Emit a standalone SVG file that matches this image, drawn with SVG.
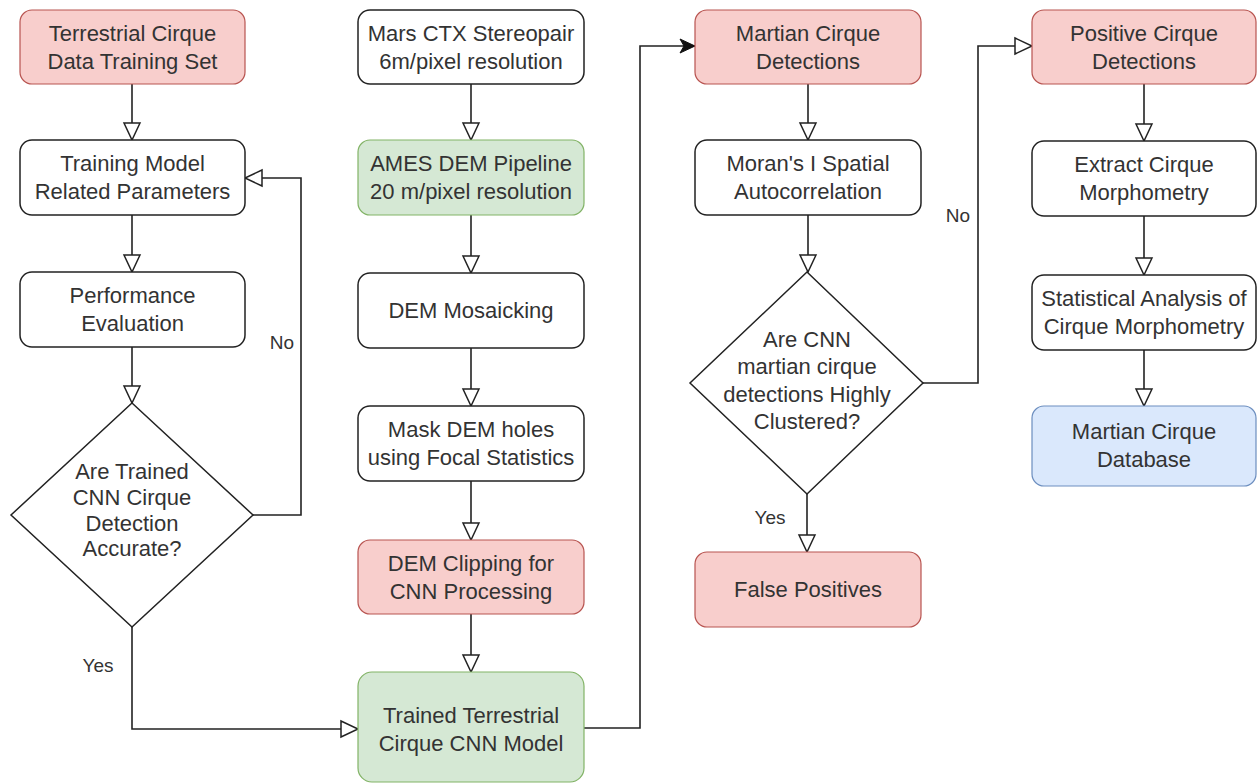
<svg xmlns="http://www.w3.org/2000/svg" width="1257" height="784" viewBox="0 0 1257 784">
<defs>
<marker id="open" markerUnits="userSpaceOnUse" markerWidth="20" markerHeight="20" refX="18" refY="9" orient="auto" viewBox="0 0 20 18">
<path d="M1,1 L18,9 L1,17 Z" fill="#fff" stroke="#222" stroke-width="1.5"/>
</marker>
<marker id="filled" markerUnits="userSpaceOnUse" markerWidth="18" markerHeight="16" refX="16" refY="8" orient="auto" viewBox="0 0 18 16">
<path d="M1,1 L16,8 L1,15 L5,8 Z" fill="#111" stroke="#111" stroke-width="1"/>
</marker>
<style>
.box{fill:#fff;stroke:#222;stroke-width:1.5}
.red{fill:#f8cecc;stroke:#b85450;stroke-width:1.2}
.green{fill:#d5e8d4;stroke:#82b366;stroke-width:1.2}
.blue{fill:#dae8fc;stroke:#6c8ebf;stroke-width:1.2}
text{font-family:"Liberation Sans",Arial,sans-serif;font-size:22px;fill:#333;text-anchor:middle}
.lbl{font-size:19px}
.c{fill:none;stroke:#222;stroke-width:1.6}
</style>
</defs>
<g id="connectors">
<path class="c" d="M132,84 V140" marker-end="url(#open)"/>
<path class="c" d="M132,215 V272" marker-end="url(#open)"/>
<path class="c" d="M132,347 V403" marker-end="url(#open)"/>
<path class="c" d="M253,515 H301 V178 H245" marker-end="url(#open)"/>
<path class="c" d="M132,627 V729 H358" marker-end="url(#open)"/>
<path class="c" d="M471,84 V140" marker-end="url(#open)"/>
<path class="c" d="M471,215 V273" marker-end="url(#open)"/>
<path class="c" d="M471,348 V406" marker-end="url(#open)"/>
<path class="c" d="M471,481 V540" marker-end="url(#open)"/>
<path class="c" d="M471,614 V672" marker-end="url(#open)"/>
<path class="c" d="M584,728 H640 V46 H695" marker-end="url(#filled)"/>
<path class="c" d="M808,84 V140" marker-end="url(#open)"/>
<path class="c" d="M808,215 V272" marker-end="url(#open)"/>
<path class="c" d="M807,494 V552" marker-end="url(#open)"/>
<path class="c" d="M923,383 H978 V46 H1032" marker-end="url(#open)"/>
<path class="c" d="M1144,84 V141" marker-end="url(#open)"/>
<path class="c" d="M1144,216 V275" marker-end="url(#open)"/>
<path class="c" d="M1144,350 V406" marker-end="url(#open)"/>
<text class="lbl" x="282" y="349">No</text>
<text class="lbl" x="98" y="672">Yes</text>
<text class="lbl" x="958" y="222">No</text>
<text class="lbl" x="770" y="524">Yes</text>
</g>
<g id="n1"><rect class="red" x="20" y="10" width="225" height="74" rx="12"/><text x="132.5" y="40.5">Terrestrial Cirque</text><text x="132.5" y="68.5">Data Training Set</text></g>
<g id="n2"><rect class="box" x="20" y="140" width="225" height="75" rx="12"/><text x="132.5" y="171">Training Model</text><text x="132.5" y="199">Related Parameters</text></g>
<g id="n3"><rect class="box" x="20" y="272" width="225" height="75" rx="12"/><text x="132.5" y="303">Performance</text><text x="132.5" y="331">Evaluation</text></g>
<g id="n4"><polygon class="box" points="132,403 253,515 132,627 11,515"/><text x="132" y="479">Are Trained</text><text x="132" y="505">CNN Cirque</text><text x="132" y="531">Detection</text><text x="132" y="556">Accurate?</text></g>
<g id="n5"><rect class="box" x="358" y="10" width="226" height="74" rx="12"/><text x="471" y="40.5">Mars CTX Stereopair</text><text x="471" y="68.5">6m/pixel resolution</text></g>
<g id="n6"><rect class="green" x="358" y="140" width="226" height="75" rx="12"/><text x="471" y="171">AMES DEM Pipeline</text><text x="471" y="199">20 m/pixel resolution</text></g>
<g id="n7"><rect class="box" x="358" y="273" width="226" height="75" rx="12"/><text x="471" y="318">DEM Mosaicking</text></g>
<g id="n8"><rect class="box" x="358" y="406" width="226" height="75" rx="12"/><text x="471" y="437">Mask DEM holes</text><text x="471" y="465">using Focal Statistics</text></g>
<g id="n9"><rect class="red" x="358" y="540" width="226" height="74" rx="12"/><text x="471" y="570.5">DEM Clipping for</text><text x="471" y="598.5">CNN Processing</text></g>
<g id="n10"><rect class="green" x="358" y="672" width="226" height="110" rx="14"/><text x="471" y="723">Trained Terrestrial</text><text x="471" y="751">Cirque CNN Model</text></g>
<g id="n11"><rect class="red" x="695" y="10" width="226" height="74" rx="12"/><text x="808" y="40.5">Martian Cirque</text><text x="808" y="68.5">Detections</text></g>
<g id="n12"><rect class="box" x="695" y="140" width="226" height="75" rx="12"/><text x="808" y="171">Moran's I Spatial</text><text x="808" y="199">Autocorrelation</text></g>
<g id="n13"><polygon class="box" points="807,272 923,383 807,494 690,383"/><text x="807" y="347">Are CNN</text><text x="807" y="374">martian cirque</text><text x="807" y="402">detections Highly</text><text x="807" y="429">Clustered?</text></g>
<g id="n14"><rect class="red" x="695" y="552" width="226" height="75" rx="12"/><text x="808" y="597">False Positives</text></g>
<g id="n15"><rect class="red" x="1032" y="10" width="224" height="74" rx="12"/><text x="1144" y="40.5">Positive Cirque</text><text x="1144" y="68.5">Detections</text></g>
<g id="n16"><rect class="box" x="1032" y="141" width="224" height="75" rx="12"/><text x="1144" y="172">Extract Cirque</text><text x="1144" y="200">Morphometry</text></g>
<g id="n17"><rect class="box" x="1032" y="275" width="224" height="75" rx="12"/><text x="1144" y="306">Statistical Analysis of</text><text x="1144" y="334">Cirque Morphometry</text></g>
<g id="n18"><rect class="blue" x="1032" y="406" width="224" height="80" rx="12"/><text x="1144" y="439">Martian Cirque</text><text x="1144" y="467">Database</text></g>
</svg>
